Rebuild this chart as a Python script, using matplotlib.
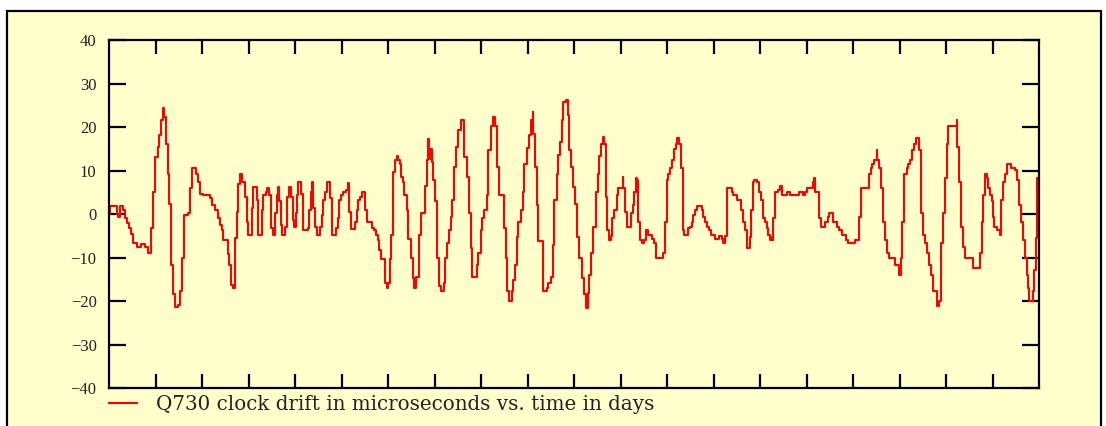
import matplotlib
matplotlib.use("Agg")
import matplotlib.pyplot as plt
from matplotlib.patches import Rectangle
from matplotlib.ticker import FixedLocator, NullFormatter

# time in days, clock drift in microseconds
days = [
    0.000, 0.022, 0.166, 0.200, 0.237, 0.301, 0.344, 0.387, 0.430, 0.473,
    0.523, 0.596, 0.688, 0.774, 0.845, 0.897, 0.953, 0.989, 1.047, 1.075,
    1.118, 1.155, 1.189, 1.226, 1.262, 1.297, 1.333, 1.383, 1.419, 1.490,
    1.527, 1.576, 1.619, 1.692, 1.742, 1.778, 1.865, 1.908, 1.957, 2.028,
    2.172, 2.209, 2.280, 2.338, 2.387, 2.424, 2.458, 2.559, 2.591,
    2.624, 2.673, 2.710, 2.746, 2.781, 2.817, 2.867, 2.925, 2.961, 2.996,
    3.069, 3.103, 3.176, 3.211, 3.284, 3.318, 3.370, 3.391, 3.441, 3.484,
    3.520, 3.570, 3.606, 3.641, 3.662, 3.699, 3.727, 3.785, 3.822, 3.871,
    3.914, 3.951, 3.978, 4.015, 4.049, 4.071, 4.129, 4.166, 4.178, 4.273,
    4.301, 4.338, 4.372, 4.394, 4.430, 4.467, 4.538, 4.574, 4.609, 4.645,
    4.682, 4.753, 4.789, 4.882, 4.918, 4.953, 4.989, 5.039, 5.090, 5.133,
    5.161,
    5.204, 5.290, 5.327, 5.361, 5.398, 5.447, 5.505, 5.542, 5.649, 5.699,
    5.735, 5.778, 5.813, 5.849, 5.935, 5.972, 6.006, 6.043, 6.065, 6.101,
    6.151, 6.187, 6.222, 6.258, 6.280, 6.316, 6.351, 6.402, 6.437, 6.495,
    6.531, 6.566, 6.602, 6.667, 6.710, 6.796, 6.832, 6.867, 6.882, 6.903,
    6.925, 6.953, 6.974, 7.011, 7.047, 7.060, 7.103, 7.140, 7.198, 7.226,
    7.262, 7.312, 7.348, 7.383, 7.426, 7.462, 7.512, 7.563, 7.641, 7.692,
    7.742,
    7.778, 7.813, 7.908, 7.942, 7.994, 8.028, 8.071, 8.123, 8.157, 8.215,
    8.252, 8.301, 8.351, 8.387, 8.501, 8.531, 8.566, 8.609, 8.660, 8.695,
    8.731, 8.768, 8.802, 8.854, 8.897, 8.931, 8.996, 9.032, 9.069, 9.112,
    9.125, 9.161, 9.198, 9.232, 9.340, 9.413, 9.447, 9.505, 9.542, 9.577,
    9.628, 9.662, 9.699, 9.735, 9.757, 9.828, 9.865, 9.892, 9.935, 9.985,
    10.022, 10.058, 10.114, 10.178, 10.222, 10.258, 10.295, 10.323,
    10.366, 10.415, 10.466, 10.510, 10.544, 10.581, 10.617, 10.652, 10.682,
    10.716, 10.753, 10.789, 10.824, 10.867, 10.918, 10.953, 11.047, 11.060,
    11.097, 11.133, 11.219, 11.262, 11.297, 11.333, 11.361, 11.383, 11.419,
    11.456, 11.505, 11.542, 11.598, 11.684, 11.727, 11.763, 11.920, 11.957,
    11.994, 12.028, 12.065, 12.114, 12.151, 12.187, 12.222, 12.265, 12.301,
    12.338, 12.372, 12.445, 12.495, 12.531, 12.566, 12.602, 12.652, 12.746,
    12.781, 12.817, 12.854,
    12.903, 12.940, 13.032, 13.118, 13.176, 13.198, 13.247, 13.297, 13.391,
    13.426, 13.512, 13.591, 13.641, 13.677, 13.714, 13.727, 13.785, 13.806,
    13.843, 13.877, 13.929, 13.978, 14.022, 14.071, 14.108, 14.144, 14.178,
    14.215, 14.252, 14.273, 14.286, 14.323, 14.394, 14.430, 14.467, 14.574,
    14.645, 14.839, 14.931, 14.968, 15.004, 15.133, 15.168, 15.183, 15.275,
    15.305, 15.398, 15.456, 15.484,
    15.577, 15.662, 15.699, 15.770, 15.843, 15.899, 16.043, 16.135, 16.172,
    16.344, 16.381, 16.415, 16.458, 16.510, 16.523, 16.559, 16.602, 16.652,
    16.688, 16.738, 16.774, 16.903, 16.989, 17.032, 17.060, 17.103, 17.155,
    17.189, 17.232, 17.275, 17.312, 17.348, 17.426, 17.462, 17.512, 17.548,
    17.585, 17.634, 17.677, 17.714, 17.813, 17.849, 17.886, 17.929, 17.978,
    18.015, 18.049, 18.230, 18.243, 18.286, 18.323, 18.372, 18.409, 18.587,
    18.731, 18.768, 18.802, 18.839, 18.875, 18.910, 18.946, 18.983, 19.004,
    19.039, 19.090, 19.161, 19.176, 19.232, 19.269, 19.305, 19.398, 19.484,
    19.533, 19.570, 19.606, 19.649, 19.699, 19.735, 19.770, 19.791, 19.865,
    19.892, 19.929, 19.963, 19.990,
]

drift = [
    0.0, 1.8, 0.0, -0.8, 1.8, 0.9, -1.0, -2.0, -3.3, -4.5,
    -6.7, -7.7, -6.9, -7.7, -9.0, -3.3, 5.1, 13.1, 15.4, 18.2,
    21.5, 24.4, 22.3, 16.0, 9.3, 2.4, -11.8, -18.5, -21.4, -20.9,
    -17.8, -10.2, -0.2, 0.2, 5.9, 10.6, 9.3, 7.4, 4.7, 4.4,
    3.6, 2.0, 0.9, -1.0, -2.5, -3.7, -6.0, -9.2, -11.8,
    -16.3, -16.9, -5.6, 0.5, 7.0, 9.1, 7.4, 4.0, -1.8, -4.8,
    1.3, 6.3, 3.2, -4.8, 0.9, 4.4, 5.1, 5.9, 4.4, -3.3,
    -4.8, 0.2, 4.4, 6.3, 3.0, -2.5, -4.8, -2.9, 4.0, 6.3,
    4.0, -1.4, -2.9, 0.2, 4.4, 7.3, 4.7, 3.6, -3.7, -3.3,
    0.9, 5.1, 7.4, 1.3, -2.9, -4.8, -2.9, -0.2, 3.2, 5.1,
    7.3, 3.6, -4.8, -3.3, -1.0, 3.2, 4.4, 5.1, 5.5, 7.2,
    0.5,
    -3.4, -1.8, 0.9, 3.2, 4.0, 5.1, 0.9, -1.8, -3.3, -3.7,
    -4.8, -6.0, -8.2, -10.4, -15.9, -16.9, -15.9, -10.4, -4.8, 9.7,
    12.4, 13.3, 12.4, 11.6, 8.5, 7.4, 4.4, 0.9, -5.8, -10.2,
    -14.6, -16.9, -14.4, -4.8, 0.2, 6.5, 12.4, 17.3, 15.0, 12.7,
    15.0, 12.0, 7.8, 3.0, 2.0, -10.0, -16.6, -17.8, -15.9, -10.0,
    -6.7, -3.7, -0.8, 3.2, 10.8, 15.4, 19.2, 21.5, 13.1, 8.5,
    0.2,
    -7.9, -14.4, -11.8, -9.0, -3.7, -1.0, 0.9, 4.4, 14.7, 20.2,
    22.3, 20.2, 10.8, 4.4, -3.3, -10.2, -17.8, -20.1, -17.8, -15.1,
    -11.8, -5.2, -1.8, 0.9, 5.1, 11.6, 15.2, 18.2, 21.5, 23.4,
    18.5, 10.8, 2.1, -6.3, -17.8, -16.9, -15.9, -14.4, -7.1, 3.2,
    9.3, 13.5, 16.6, 21.5, 25.7, 26.1, 22.7, 14.7, 10.8, 6.3,
    2.4, -5.2, -10.0, -14.6, -18.5, -21.6, -18.2, -14.0,
    -9.0, -3.1, 5.1, 9.3, 13.3, 16.2, 17.6, 16.2, 4.0,
    -3.7, -6.0, -5.0, -1.0, 0.9, 4.4, 6.0, 8.5, 6.0,
    0.5, -3.1, 0.2, 2.1, 5.1, 8.3, 7.8, -1.8, -6.0,
    -6.7, -6.0, -3.7, -4.8, -5.7, -6.7, -10.0, -9.0, -1.8,
    7.8, 9.3, 10.6, 12.4, 15.0, 16.2, 17.5, 16.0, 10.6,
    -3.7, -4.8, -3.3, -2.9, -1.8, -0.2, 0.9, 1.9, 0.9,
    -0.8, -1.8, -2.9,
    -3.7, -4.8, -5.8, -5.0, -5.8, -6.7, -5.0, 6.0, 5.1,
    4.4, 3.2, 0.9, -1.8, -3.7, -6.0, -7.9, -5.2, 0.9,
    7.4, 7.8, 7.4, 5.1, 3.2, -1.0, -1.9, -3.3, -4.8,
    -6.0, -5.2, -6.0, -1.0, 5.1, 5.5, 6.5, 4.4, 5.1,
    4.4, 5.1, 4.4, 5.1, 6.0, 7.4, 8.3, 5.1, -1.0,
    -3.1, -1.8, -0.8, 0.2,
    -1.8, -3.1, -3.7, -4.8, -6.0, -6.7, -6.0, -0.8, 6.0,
    9.1, 10.6, 11.6, 12.4, 14.7, 12.4, 10.6, 6.0, -1.8,
    -6.0, -9.0, -10.0, -11.8, -14.0, -10.0, -1.8, 9.1, 10.6,
    11.6, 12.4, 14.7, 16.0, 17.5, 14.7, 0.2, -4.8, -6.7,
    -9.0, -11.8, -14.0, -17.8, -21.2, -20.0, -6.7, 0.2, 8.2,
    16.0, 20.2, 21.5, 15.4, 7.4, -3.1, -7.7, -10.2, -12.4,
    -9.0, -1.8, 4.4, 9.1, 8.3, 6.0, 4.4, 3.0, -0.8,
    -3.1, -3.7, -4.8, 3.2, 7.4, 9.3, 11.4, 10.6, 10.2,
    7.8, 2.1, -1.8, -6.0, -10.2, -14.0, -17.0, -20.1, -17.8,
    -12.8, -5.6, 8.2, 8.2,
]

y_ticks = [-40, -30, -20, -10, 0, 10, 20, 30, 40]
x_ticks = list(range(1, 20))
legend_label = "Q730 clock drift in microseconds vs. time in days"

BG = "#FFFFCC"
W, H = 1106, 426

fig = plt.figure(figsize=(W / 100, H / 100), dpi=100, facecolor="white")
fig.patches.append(Rectangle((7 / W, -0.05), (1101 - 7) / W, 1.05 - 11 / H,
                             transform=fig.transFigure, facecolor=BG,
                             edgecolor="black", linewidth=1.6, zorder=-10))

ax = fig.add_axes([109 / W, 1 - 388 / H, 930 / W, 348 / H])
ax.set_facecolor(BG)
ax.plot(days, drift, drawstyle="steps-post", color="#FF0000", lw=1.5,
        label=legend_label)

ax.set_xlim(0, 20)
ax.set_ylim(-40, 40)
ax.xaxis.set_major_locator(FixedLocator(x_ticks))
ax.xaxis.set_major_formatter(NullFormatter())
ax.set_yticks(y_ticks)
ax.set_yticklabels([f"{v}".replace("-", "\u2212") for v in y_ticks])

for s in ax.spines.values():
    s.set_linewidth(1.6)
    s.set_color("black")

ax.tick_params(axis="x", direction="in", length=10, width=1.6,
               top=True, bottom=True)
ax.tick_params(axis="y", direction="in", length=12, width=1.6,
               left=True, right=True, pad=9)
for lab in ax.get_yticklabels():
    lab.set_fontfamily("Liberation Serif")
    lab.set_fontsize(12)
    lab.set_color("#222222")

leg = ax.legend(loc="center left", bbox_to_anchor=(109 / W, 1 - 404 / H),
                bbox_transform=fig.transFigure, frameon=False,
                borderpad=0, borderaxespad=0, handlelength=1.42,
                handletextpad=0.93,
                prop={"family": "DejaVu Serif", "size": 14.3})
for t in leg.get_texts():
    t.set_color("#222222")

fig.savefig("out.png", dpi=100, facecolor="white")
